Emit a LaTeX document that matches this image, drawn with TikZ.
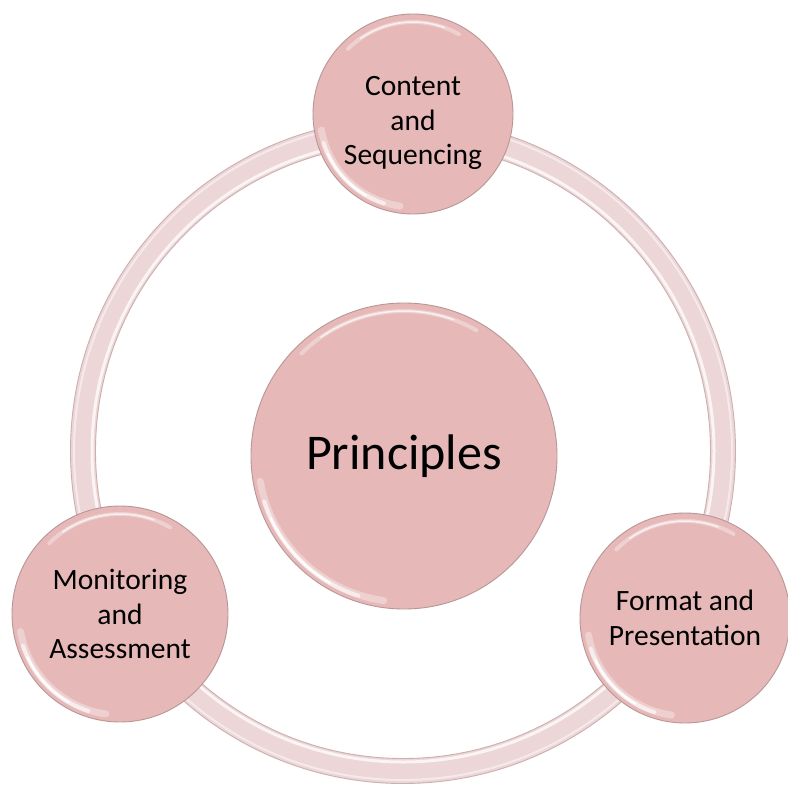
\documentclass[tikz,border=0pt]{standalone}
\usepackage{fontspec}
\setmainfont{Carlito}
\definecolor{bubble}{RGB}{230,184,184}
\definecolor{bubbleedge}{RGB}{185,150,150}
\definecolor{ringband}{RGB}{236,214,215}
\definecolor{ringedge}{RGB}{205,175,175}
\begin{document}
\begin{tikzpicture}[x=1pt,y=1pt,
  bubble/.style={circle, fill=bubble, draw=bubbleedge, line width=0.9pt, inner sep=0pt, align=center, text=black},
  small/.style={font=\fontsize{29.5}{34.5}\selectfont},
  big/.style={font=\fontsize{50}{60}\selectfont}]
\useasboundingbox (0,0) rectangle (787,-789);
\fill[white] (0,0) rectangle (787,-789);
% ring
\coordinate (rc) at (403,-451);
\draw[ringband, line width=25pt] (rc) circle[radius=320];
\draw[ringedge, line width=0.9pt] (rc) circle[radius=332.5];
\draw[ringedge, line width=0.9pt] (rc) circle[radius=307.5];
\draw[white, opacity=.75, line width=3pt] (rc) circle[radius=311];
\draw[white, opacity=.5, line width=2pt] (rc) circle[radius=329];
% bubbles
\node[bubble, big, minimum size=306pt] (principles) at (404,-456) {Principles};
\node[bubble, small, minimum size=200pt] (content) at (413,-114) {\rule{0pt}{38pt}Content\\and\\Sequencing};
\node[bubble, small, minimum size=216pt] (monitor) at (120,-614) {Monitoring\\and\\Assessment};
\node[bubble, small, minimum size=210pt] (format) at (685,-618) {Format and\\Presentation};
% glossy highlights
\foreach \n/\r in {principles/153, content/100, monitor/108, format/105} {
  \pgfmathsetmacro\ra{\r-7}
  \pgfmathsetmacro\rb{\r-6}
  \pgfmathsetmacro\rc{\r-8}
  \begin{scope}[shift={(\n.center)}]
    \draw[white, opacity=.35, line width=7pt, line cap=round] (190:\ra) arc[start angle=190, end angle=262, radius=\ra];
    \draw[white, opacity=.6, line width=4pt, line cap=round] (198:\rb) arc[start angle=198, end angle=252, radius=\rb];
    \draw[white, opacity=.9, line width=2pt, line cap=round] (205:\rb) arc[start angle=205, end angle=240, radius=\rb];
    \draw[white, opacity=.35, line width=4pt, line cap=round] (135:\rc) arc[start angle=135, end angle=60, radius=\rc];
    \draw[white, opacity=.7, line width=1.5pt, line cap=round] (125:\rc) arc[start angle=125, end angle=70, radius=\rc];
  \end{scope}
}
\end{tikzpicture}
\end{document}
